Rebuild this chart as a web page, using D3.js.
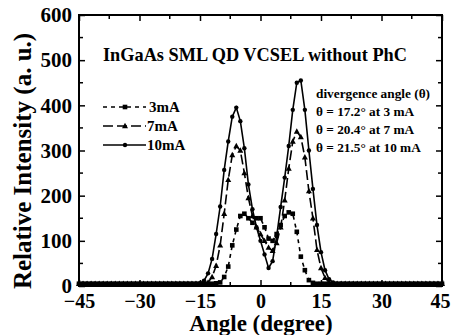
<!DOCTYPE html>
<html>
<head>
<meta charset="utf-8">
<script src="https://cdn.jsdelivr.net/npm/d3@7"></script>
<style>
  body { margin: 0; background: #fff; }
</style>
</head>
<body>
<svg id="chart" width="451" height="335"></svg>
<script>
// angles in degrees, 1 degree steps
var angles = d3.range(-45, 46);

// intensity values, baseline ~5 outside the beam
var base = 5;
var peak3 = { '-11': 6, '-10': 8, '-9': 20, '-8': 43, '-7': 90, '-6': 125, '-5': 155, '-4': 160, '-3': 150,
  '-2': 140, '-1': 150, '0': 150, '1': 130, '2': 105, '3': 100, '4': 115, '5': 135, '6': 155, '7': 163,
  '8': 160, '9': 120, '10': 65, '11': 35, '12': 13, '13': 7 };
var peak7 = { '-13': 8, '-12': 20, '-11': 45, '-10': 90, '-9': 160, '-8': 235, '-7': 290, '-6': 310,
  '-5': 300, '-4': 250, '-3': 195, '-2': 155, '-1': 130, '0': 115, '1': 100, '2': 85, '3': 78, '4': 95,
  '5': 130, '6': 190, '7': 260, '8': 320, '9': 342, '10': 330, '11': 285, '12': 210, '13': 150,
  '14': 80, '15': 40, '16': 18, '17': 8 };
var peak10 = { '-15': 6, '-14': 12, '-13': 28, '-12': 60, '-11': 115, '-10': 176, '-9': 257, '-8': 320,
  '-7': 375, '-6': 395, '-5': 365, '-4': 305, '-3': 225, '-2': 170, '-1': 130, '0': 100, '1': 70,
  '2': 40, '3': 55, '4': 110, '5': 175, '6': 240, '7': 310, '8': 390, '9': 450, '10': 455, '11': 390,
  '12': 300, '13': 215, '14': 135, '15': 75, '16': 35, '17': 15, '18': 8 };

var seriesNames = ['3mA', '7mA', '10mA'];
var seriesPeaks = [peak3, peak7, peak10];

var xTicks = [-45, -30, -15, 0, 15, 30, 45];
var yTicks = [0, 100, 200, 300, 400, 500, 600];

var notes = ['divergence angle (\u03B8)', '\u03B8 = 17.2\u00B0 at 3 mA', '\u03B8 = 20.4\u00B0 at 7 mA', '\u03B8 = 21.5\u00B0 at 10 mA'];

var serif = '"Liberation Serif", "Times New Roman", serif';

var svg = d3.select('#chart');
var pLeft = 79, pRight = 442, pTop = 15, pBottom = 286;

var x = d3.scaleLinear().domain([-45, 45]).range([pLeft, pRight]);
var y = d3.scaleLinear().domain([0, 600]).range([pBottom, pTop]);

// build each series from the readings
var series = seriesPeaks.map(function (p, i) {
  return {
    name: seriesNames[i],
    values: angles.map(function (a) { return { a: a, v: p[a] !== undefined ? p[a] : base }; })
  };
});

var dashes = ['4,4', '10,4', null];

var line = d3.line().x(function (d) { return x(d.a); }).y(function (d) { return y(d.v); });

var g = svg.append('g');

series.forEach(function (s, i) {
  g.append('path')
    .datum(s.values)
    .attr('d', line)
    .attr('fill', 'none')
    .attr('stroke', '#000')
    .attr('stroke-width', 1.6)
    .attr('stroke-dasharray', dashes[i]);
});

// markers
function drawMarker(sel, i, cx, cy) {
  if (i === 0) {
    sel.append('rect').attr('x', cx - 2.3).attr('y', cy - 2.3).attr('width', 4.6).attr('height', 4.6);
  } else if (i === 1) {
    sel.append('path').attr('d', 'M' + cx + ',' + (cy - 3.2) + 'L' + (cx + 3) + ',' + (cy + 2.2) + 'L' + (cx - 3) + ',' + (cy + 2.2) + 'Z');
  } else {
    sel.append('circle').attr('cx', cx).attr('cy', cy).attr('r', 2.2);
  }
}

series.forEach(function (s, i) {
  var mg = g.append('g').attr('fill', '#000');
  s.values.forEach(function (d) {
    drawMarker(mg, i, x(d.a), y(d.v));
  });
});

// frame
svg.append('rect')
  .attr('x', pLeft).attr('y', pTop)
  .attr('width', pRight - pLeft).attr('height', pBottom - pTop)
  .attr('fill', 'none').attr('stroke', '#000').attr('stroke-width', 2);

// ticks inward on all sides
var xAxisB = d3.axisBottom(x).tickValues(xTicks).tickSize(-6).tickFormat(function (d) { return d < 0 ? '\u2212' + (-d) : d; }).tickPadding(8);
var xMinor = d3.range(-45, 46, 7.5).filter(function (d) { return xTicks.indexOf(d) < 0; });
var yMinor = d3.range(50, 600, 100);

var gxb = svg.append('g').attr('transform', 'translate(0,' + pBottom + ')').call(xAxisB);
gxb.select('.domain').remove();
gxb.selectAll('text').style('font-family', serif).style('font-size', '20px').style('font-weight', 'bold');
// keep the last label inside the picture
gxb.selectAll('.tick').filter(function (d) { return d === 45; }).select('text')
  .attr('text-anchor', 'end').attr('x', 8);

var gyl = svg.append('g').attr('transform', 'translate(' + pLeft + ',0)')
  .call(d3.axisLeft(y).tickValues(yTicks).tickSize(-6).tickPadding(7));
gyl.select('.domain').remove();
gyl.selectAll('text').style('font-family', serif).style('font-size', '21px').style('font-weight', 'bold');

var gxt = svg.append('g').attr('transform', 'translate(0,' + pTop + ')')
  .call(d3.axisTop(x).tickValues(xTicks).tickSize(-6).tickFormat(''));
gxt.select('.domain').remove();
var gyr = svg.append('g').attr('transform', 'translate(' + pRight + ',0)')
  .call(d3.axisRight(y).tickValues(yTicks).tickSize(-6).tickFormat(''));
gyr.select('.domain').remove();

// minor ticks
[[pBottom, -4], [pTop, 4]].forEach(function (p) {
  svg.append('g').selectAll('line').data(xMinor).enter().append('line')
    .attr('x1', function (d) { return x(d); }).attr('x2', function (d) { return x(d); })
    .attr('y1', p[0]).attr('y2', p[0] + p[1]).attr('stroke', '#000').attr('stroke-width', 1.5);
});
[[pLeft, 4], [pRight, -4]].forEach(function (p) {
  svg.append('g').selectAll('line').data(yMinor).enter().append('line')
    .attr('y1', function (d) { return y(d); }).attr('y2', function (d) { return y(d); })
    .attr('x1', p[0]).attr('x2', p[0] + p[1]).attr('stroke', '#000').attr('stroke-width', 1.5);
});
svg.selectAll('.tick line').attr('stroke-width', 1.5);

// axis titles
svg.append('text').attr('x', 261).attr('y', 331).attr('text-anchor', 'middle')
  .style('font-family', serif).style('font-size', '23px').style('font-weight', 'bold').text('Angle (degree)');
svg.append('text').attr('transform', 'translate(31,161) rotate(-90)').attr('text-anchor', 'middle')
  .style('font-family', serif).style('font-size', '25px').style('font-weight', 'bold').text('Relative Intensity (a. u.)');

// inner title
svg.append('text').attr('x', 103).attr('y', 61)
  .style('font-family', serif).style('font-size', '18.3px').style('font-weight', 'bold')
  .text('InGaAs SML QD VCSEL without PhC');

// legend
var legY = [112, 131, 150];
series.forEach(function (s, i) {
  svg.append('line').attr('x1', 103).attr('x2', 146).attr('y1', legY[i] - 5).attr('y2', legY[i] - 5)
    .attr('stroke', '#000').attr('stroke-width', 1.6).attr('stroke-dasharray', dashes[i]);
  var mg = svg.append('g').attr('fill', '#000');
  drawMarker(mg, i, 125, legY[i] - 5);
  svg.append('text').attr('x', i === 0 ? 149 : 147).attr('y', legY[i])
    .style('font-family', serif).style('font-size', '15px').style('font-weight', 'bold').text(s.name);
});

// divergence notes
svg.append('g').selectAll('text').data(notes).enter().append('text')
  .attr('x', 316).attr('y', function (d, i) { return 98 + i * 18; })
  .style('font-family', serif).style('font-size', '13.3px').style('font-weight', 'bold')
  .text(function (d) { return d; });
</script>
</body>
</html>
